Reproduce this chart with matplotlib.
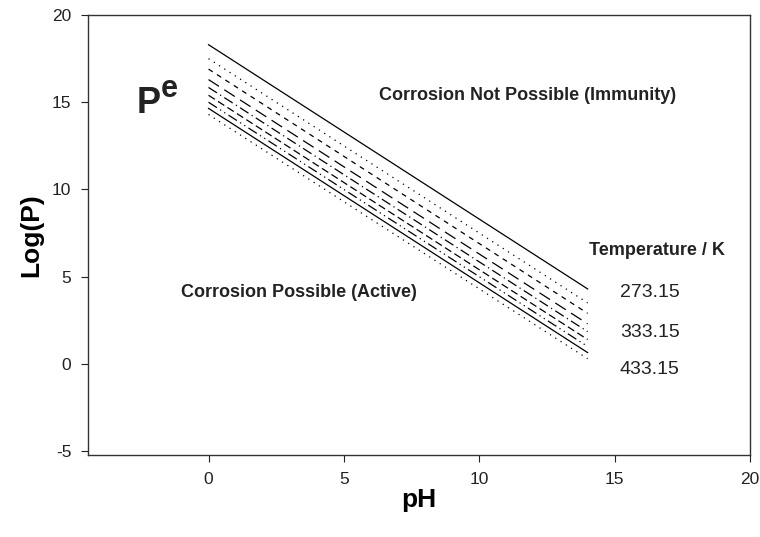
import matplotlib
matplotlib.use("Agg")
from matplotlib import pyplot as plt

plt.rcParams["font.family"] = ["Liberation Sans", "DejaVu Sans"]
plt.rcParams["axes.unicode_minus"] = False

# line ends at pH 0 and pH 14, one line per temperature (273.15 .. 433.15 K)
ph_ends = [0, 14]
temps = [273.15, 293.15, 313.15, 333.15, 353.15, 373.15, 393.15, 413.15, 433.15]
logp_start = [18.30, 17.50, 16.90, 16.30, 15.85, 15.40, 15.00, 14.65, 14.30]
logp_end = [4.30, 3.50, 2.90, 2.30, 1.85, 1.40, 1.00, 0.65, 0.30]

styles = ["-", (0, (1, 4)), (0, (4, 4)), (0, (10, 5)), (0, (8, 3, 1, 3)),
          (0, (6, 3)), (0, (8, 3, 1, 3, 1, 3)), "-", (0, (1, 4))]

fig = plt.figure(figsize=(7.6, 5.37), dpi=100)
ax = fig.add_axes([0.1158, 0.1527, 0.8712, 0.8193])

for t, y0, y1, ls in zip(temps, logp_start, logp_end, styles):
    ax.plot(ph_ends, [y0, y1], color="black", linestyle=ls, linewidth=0.9)

ax.set_xlim(-4.45, 20)
ax.set_ylim(-5.22, 20)
ax.set_xticks([0, 5, 10, 15, 20])
ax.set_yticks([-5, 0, 5, 10, 15, 20])
ax.tick_params(direction="out", length=5, labelsize=12.5, colors="#222222", pad=7)
for s in ax.spines.values():
    s.set_linewidth(1.0)
    s.set_color("#333333")

ax.set_xlabel("pH", fontsize=19, fontweight="bold", labelpad=1)
ax.set_ylabel("Log(P)", fontsize=19, fontweight="bold", labelpad=6)

ax.text(-2.65, 14.4, "P", fontsize=26, fontweight="bold", color="#222222")
ax.text(-1.75, 15.3, "e", fontsize=22, fontweight="bold", color="#222222")
ax.text(11.8, 15.4, "Corrosion Not Possible (Immunity)", fontsize=13,
        fontweight="bold", ha="center", va="center", color="#222222")
ax.text(3.35, 4.1, "Corrosion Possible (Active)", fontsize=13,
        fontweight="bold", ha="center", va="center", color="#222222")
ax.text(16.57, 6.5, "Temperature / K", fontsize=13, fontweight="bold",
        ha="center", va="center", color="#222222")
for lbl, yy in zip(["273.15", "333.15", "433.15"], [4.1, 1.8, -0.3]):
    ax.text(16.3, yy, lbl, fontsize=14, ha="center", va="center", color="#222222")

plt.savefig("out.png", dpi=100)
